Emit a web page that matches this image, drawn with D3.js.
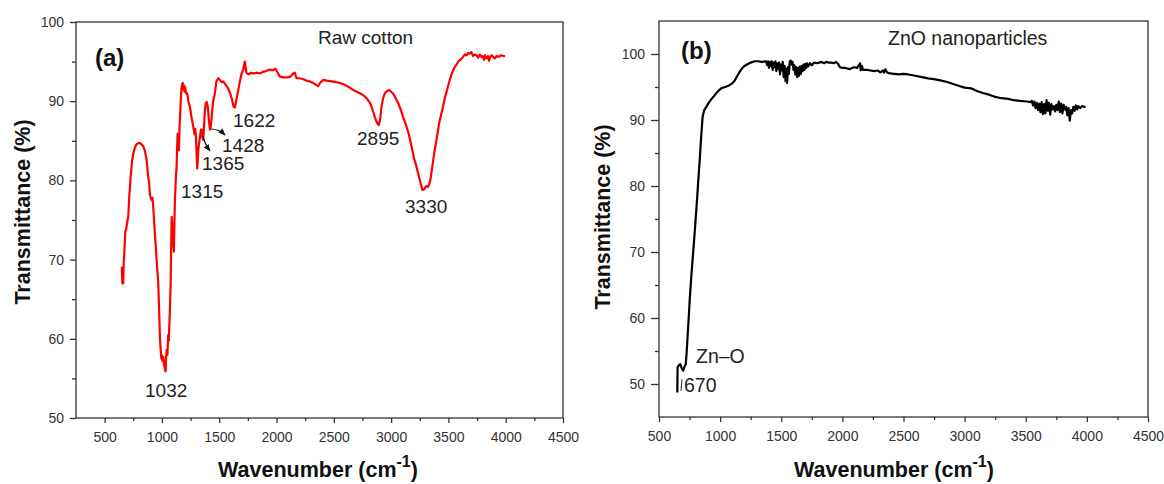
<!DOCTYPE html>
<html><head><meta charset="utf-8">
<script src="https://cdn.jsdelivr.net/npm/d3@7/dist/d3.min.js"></script>
<style>
html,body{margin:0;padding:0;background:#fff;}
svg{display:block;}
text{font-family:"Liberation Sans",Arial,sans-serif;}
</style></head>
<body>
<svg id="chart" width="1164" height="484"></svg>
<script>
// ---------- DATA ----------
const xTicks = [500,1000,1500,2000,2500,3000,3500,4000,4500];
const xMinorTicks = [750,1250,1750,2250,2750,3250,3750,4250];
const yTicks = [50,60,70,80,90,100];
const yMinorTicks = [55,65,75,85,95];

// (a) Raw cotton
const cottonWn = [650,655,662,666,672,680,690,700,706,715,727,740,750,765,780,793,810,825,837,850,866,880,889,895,901,910,918,924,935,948,958,968,977,983,989,995,1000,1005,1011,1018,1026,1032,1036,1041,1048,1055,1060,1064,1070,1076,1080,1085,1090,1095,1099,1104,1108,1113,1118,1122,1128,1132,1137,1142,1148,1153,1158,1163,1170,1176,1181,1186,1191,1196,1201,1210,1221,1230,1244,1258,1273,1285,1290,1297,1302,1308,1312,1318,1325,1332,1340,1346,1352,1360,1366,1375,1382,1390,1398,1404,1410,1419,1426,1434,1445,1462,1475,1491,1505,1520,1535,1550,1565,1578,1595,1610,1625,1637,1650,1666,1680,1695,1710,1717,1724,1730,1737,1744,1760,1780,1800,1830,1855,1880,1910,1940,1971,1990,2010,2029,2060,2090,2120,2145,2160,2174,2200,2230,2260,2291,2320,2340,2363,2380,2407,2440,2480,2520,2552,2590,2630,2669,2700,2740,2770,2785,2800,2815,2829,2845,2860,2873,2885,2893,2905,2916,2930,2945,2965,2982,3000,3015,3032,3060,3085,3105,3130,3155,3178,3200,3220,3235,3255,3273,3290,3305,3322,3335,3343,3360,3380,3396,3420,3440,3453,3470,3490,3512,3530,3550,3570,3590,3610,3628,3645,3660,3672,3685,3700,3715,3730,3745,3760,3775,3790,3800,3810,3820,3832,3845,3855,3865,3878,3890,3905,3920,3940,3960,3980,3995];
const cottonT = [69.1,67.0,67.0,69.5,71.0,73.5,74.0,75.0,75.4,78.0,80.5,82.5,83.4,84.2,84.6,84.7,84.7,84.5,84.3,83.8,82.6,80.5,79.6,78.2,77.9,77.5,77.8,76.7,74.0,71.2,69.0,67.0,62.8,60.0,58.6,57.5,57.9,57.2,57.7,56.8,56.1,55.9,57.5,58.6,58.0,60.5,59.8,61.5,64.0,67.0,71.0,75.4,73.8,74.5,72.1,71.0,74.0,77.5,79.0,80.5,81.7,84.0,85.9,84.5,83.8,86.5,88.0,89.7,91.5,92.2,92.3,91.5,92.0,91.2,91.8,91.0,91.0,90.0,89.3,88.0,86.8,85.8,86.5,85.5,83.5,81.5,82.5,84.0,84.7,85.5,86.4,86.4,85.5,85.1,86.5,88.9,89.7,89.9,89.5,88.7,87.5,86.4,86.8,88.0,89.8,91.0,92.5,92.9,92.7,92.4,92.5,92.2,91.9,91.6,91.0,90.3,89.3,89.2,90.2,91.4,92.5,93.5,94.0,94.6,95.0,94.3,93.6,93.5,93.4,93.6,93.5,93.6,93.5,93.7,93.8,94.0,93.9,94.1,93.6,93.1,93.0,93.0,93.1,93.5,93.6,92.9,92.9,92.8,92.6,92.5,92.3,92.1,91.9,92.3,92.7,92.6,92.5,92.4,92.3,92.1,91.8,91.4,91.2,90.9,90.6,90.4,90.1,89.8,89.3,88.6,87.9,87.4,87.1,87.0,87.8,89.3,90.4,91.0,91.3,91.4,91.2,91.0,90.6,89.8,88.9,88.0,87.0,85.8,84.3,82.8,81.8,80.9,79.8,78.8,78.9,79.3,79.2,79.6,80.1,81.8,83.8,85.1,87.3,88.5,89.3,90.5,91.5,92.7,93.5,94.2,94.6,95.1,95.3,95.6,95.9,95.8,96.1,96.0,96.2,95.7,95.9,95.8,95.5,95.9,95.6,95.7,95.2,95.8,95.4,95.7,95.1,95.6,95.8,95.6,95.4,95.7,95.6,95.8,95.7,95.7];

// (b) ZnO nanoparticles
const znoWn = [650,652,660,674,686,698,708,719,727,735,743,751,765,781,796,811,822,833,845,857,870,887,910,930,949,970,990,1009,1040,1070,1101,1120,1147,1170,1193,1220,1250,1284,1310,1340,1375,1385,1392,1400,1408,1415,1422,1430,1437,1445,1452,1460,1467,1475,1482,1490,1497,1505,1512,1520,1527,1535,1542,1548,1555,1562,1570,1578,1585,1592,1600,1607,1615,1622,1630,1637,1645,1652,1660,1667,1675,1682,1690,1697,1705,1712,1720,1735,1750,1770,1790,1810,1830,1850,1870,1890,1910,1930,1950,1965,1980,2000,2016,2040,2060,2080,2100,2120,2138,2145,2150,2160,2168,2200,2230,2260,2291,2310,2330,2340,2352,2365,2380,2420,2460,2500,2540,2596,2650,2700,2748,2800,2850,2900,2950,3000,3053,3100,3150,3206,3250,3300,3358,3400,3450,3511,3540,3550,3560,3570,3580,3590,3600,3610,3620,3630,3640,3650,3660,3670,3680,3690,3700,3710,3720,3730,3740,3750,3760,3770,3780,3790,3800,3810,3820,3830,3840,3850,3860,3870,3880,3890,3900,3910,3920,3930,3945,3960,3975,3990];
const znoT = [48.7,52.5,52.8,53.0,52.4,52.0,52.6,53.0,55.0,57.6,60.0,62.7,66.5,70.3,74.0,77.9,81.0,83.9,87.5,90.5,91.5,92.0,92.7,93.2,93.6,94.1,94.5,94.8,95.0,95.2,95.6,96.0,96.9,97.6,98.1,98.4,98.7,98.9,98.9,98.8,98.9,98.3,98.9,97.9,98.8,98.2,98.9,97.6,98.7,98.0,98.9,97.4,98.6,97.8,98.7,96.9,98.4,97.5,98.8,96.5,98.2,95.9,97.8,95.6,98.0,97.0,98.9,99.0,98.4,98.8,97.6,98.3,96.9,98.0,96.5,97.9,96.7,98.1,97.0,98.2,97.4,98.4,97.6,98.5,97.9,98.6,98.1,98.6,98.3,98.7,98.6,98.7,98.8,98.6,98.8,98.7,98.7,98.6,98.8,98.5,98.0,97.9,97.9,97.8,97.7,97.9,98.0,97.9,98.4,98.6,97.5,98.2,97.6,97.6,97.5,97.4,97.5,97.2,97.5,97.2,97.7,97.2,97.1,97.0,96.9,97.0,96.9,96.7,96.5,96.3,96.2,96.0,95.8,95.5,95.2,94.9,94.8,94.4,94.1,93.8,93.5,93.3,93.2,93.0,92.9,92.8,92.7,92.9,92.2,92.8,91.8,92.6,91.5,92.5,91.2,92.7,90.9,92.4,91.0,93.0,91.4,92.6,90.8,92.4,91.6,92.1,91.3,92.3,91.5,92.8,91.2,92.5,91.0,92.3,91.6,92.0,90.7,91.8,89.9,91.5,91.0,92.0,91.4,92.2,91.6,92.1,91.8,92.1,92.0,92.0];

// ---------- DRAW ----------
const svg = d3.select("#chart");
svg.append("rect").attr("width",1164).attr("height",484).attr("fill","#fff");

const defs = svg.append("defs");
defs.append("marker").attr("id","arr").attr("viewBox","0 0 10 10")
  .attr("refX",9).attr("refY",5).attr("markerWidth",6).attr("markerHeight",6)
  .attr("orient","auto")
  .append("path").attr("d","M0,1 L10,5 L0,9 Z").attr("fill","#111");

function panel(opt){
  const g = svg.append("g");
  const x = d3.scaleLinear().domain(opt.xDomain).range([opt.left, opt.right]);
  const y = d3.scaleLinear().domain(opt.yDomain).range([opt.bottom, opt.top]);
  const axisColor = "#333";
  g.append("rect").attr("x",opt.left).attr("y",opt.top)
    .attr("width",opt.right-opt.left).attr("height",opt.bottom-opt.top)
    .attr("fill","none").attr("stroke",axisColor).attr("stroke-width",1.3);
  const xa = g.append("g").attr("transform",`translate(0,${opt.bottom})`)
    .call(d3.axisBottom(x).tickValues(xTicks).tickSize(5).tickPadding(9).tickFormat(d3.format("d")));
  xa.select(".domain").remove();
  xa.selectAll("line").attr("stroke",axisColor).attr("stroke-width",1.3);
  xa.selectAll("text").attr("font-size",14).attr("fill","#333");
  const xm = g.append("g").attr("transform",`translate(0,${opt.bottom})`)
    .call(d3.axisBottom(x).tickValues(xMinorTicks).tickSize(3).tickFormat(""));
  xm.select(".domain").remove();
  xm.selectAll("line").attr("stroke",axisColor).attr("stroke-width",1.3);
  const ya = g.append("g").attr("transform",`translate(${opt.left},0)`)
    .call(d3.axisLeft(y).tickValues(yTicks).tickSize(opt.yTick).tickPadding(6));
  ya.select(".domain").remove();
  ya.selectAll("line").attr("stroke",axisColor).attr("stroke-width",1.3);
  ya.selectAll("text").attr("font-size",14).attr("fill","#333");
  const ym = g.append("g").attr("transform",`translate(${opt.left},0)`)
    .call(d3.axisLeft(y).tickValues(yMinorTicks).tickSize(4).tickFormat(""));
  ym.select(".domain").remove();
  ym.selectAll("line").attr("stroke",axisColor).attr("stroke-width",1.3);

  const pts = opt.wn.map((w,i)=>[w,opt.t[i]]);
  g.append("path").datum(pts)
    .attr("fill","none").attr("stroke",opt.color).attr("stroke-width",2.2)
    .attr("stroke-linejoin","round")
    .attr("d", d3.line().x(d=>x(d[0])).y(d=>y(d[1])));

  g.append("text").attr("transform",`translate(${opt.yTitleX},${opt.yTitleY}) rotate(-90)`)
    .attr("text-anchor","middle").attr("font-weight","bold").attr("font-size",21.5)
    .attr("fill","#111").text("Transmittance (%)");
  const xt = g.append("text").attr("x",opt.xTitleX).attr("y",477)
    .attr("text-anchor","middle").attr("font-weight","bold").attr("font-size",21.5).attr("fill","#111");
  xt.append("tspan").text("Wavenumber (cm");
  xt.append("tspan").attr("font-size",16).attr("dy",-10).text("-1");
  xt.append("tspan").attr("dy",10).text(")");
  return {g,x,y};
}

const A = panel({xDomain:[250,4500], yDomain:[50,100], left:76, right:563, top:22, bottom:418,
  wn:cottonWn, t:cottonT, color:"#ff0000", yTick:6, yTitleX:30, yTitleY:212, xTitleX:318});
const B = panel({xDomain:[500,4500], yDomain:[45,105], left:659, right:1148, top:21, bottom:417,
  wn:znoWn, t:znoT, color:"#000000", yTick:8, yTitleX:610, yTitleY:217, xTitleX:894});

const ga = A.g;
ga.append("text").attr("x",95).attr("y",66).attr("font-weight","bold").attr("font-size",24).attr("fill","#111").text("(a)");
ga.append("text").attr("x",318).attr("y",44).attr("font-size",19).attr("fill","#222").text("Raw cotton");
const peaksA = [["1032",145,397],["1315",181,198],["1365",202,170],["1428",222,152],["1622",233,127],["2895",357,145],["3330",405,213]];
peaksA.forEach(p=>ga.append("text").attr("x",p[1]).attr("y",p[2]).attr("font-size",19).attr("fill","#222").text(p[0]));
ga.append("path").attr("d","M202.5,136 Q205,144 210,151").attr("fill","none").attr("stroke","#111").attr("stroke-width",1.2).attr("marker-end","url(#arr)");
ga.append("path").attr("d","M211,129 Q219,129 225,135").attr("fill","none").attr("stroke","#111").attr("stroke-width",1.2).attr("marker-end","url(#arr)");

const gb = B.g;
gb.append("text").attr("x",681).attr("y",59).attr("font-weight","bold").attr("font-size",24).attr("fill","#111").text("(b)");
gb.append("text").attr("x",888).attr("y",45).attr("font-size",19.5).attr("fill","#222").text("ZnO nanoparticles");
gb.append("text").attr("x",696).attr("y",363).attr("font-size",19.5).attr("fill","#222").text("Zn\u2013O");
gb.append("text").attr("x",684).attr("y",392).attr("font-size",19.5).attr("fill","#222").text("670");
gb.append("line").attr("x1",682).attr("y1",379).attr("x2",681).attr("y2",391).attr("stroke","#222").attr("stroke-width",1);
</script>
</body></html>
